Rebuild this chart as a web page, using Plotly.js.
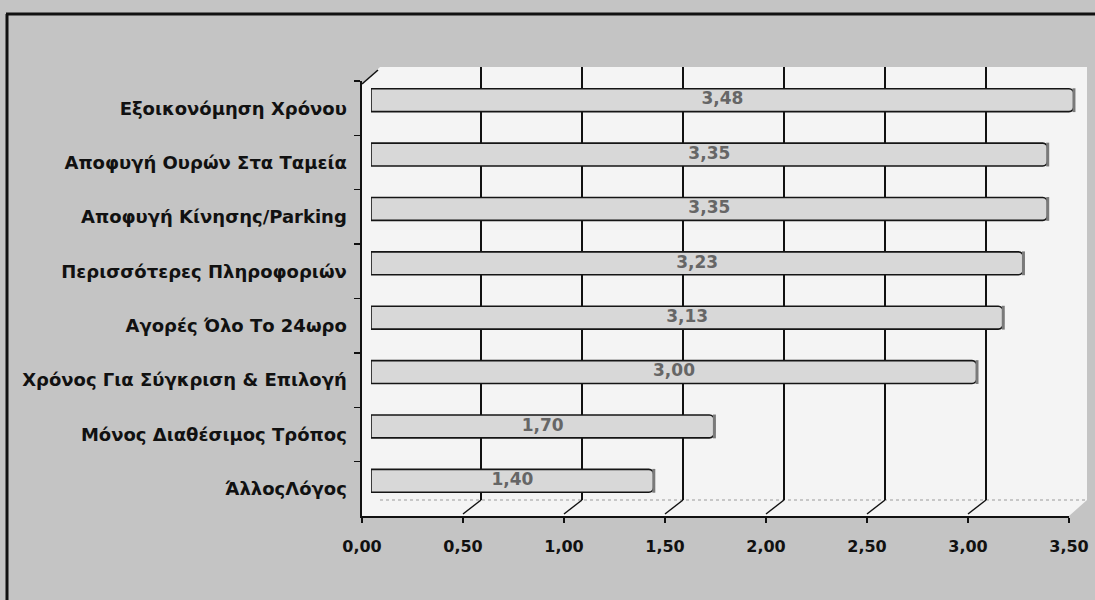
<!DOCTYPE html>
<html>
<head>
<meta charset="utf-8">
<script src="https://cdn.plot.ly/plotly-3.0.1.min.js"></script>
<style>html,body{margin:0;padding:0;background:#c4c4c4;}</style>
</head>
<body>
<div id="chart" style="width:1095px;height:600px;"></div>
<script>
// ---- data ----
const categories = [
  'Εξοικονόμηση Χρόνου',
  'Αποφυγή Ουρών Στα Ταμεία',
  'Αποφυγή Κίνησης/Parking',
  'Περισσότερες Πληροφοριών',
  'Αγορές Όλο Το 24ωρο',
  'Χρόνος Για Σύγκριση & Επιλογή',
  'Μόνος Διαθέσιμος Τρόπος',
  'ΆλλοςΛόγος'
];
const values = [3.48, 3.35, 3.35, 3.23, 3.13, 3.00, 1.70, 1.40];
const tickValues = [0, 0.5, 1.0, 1.5, 2.0, 2.5, 3.0, 3.5];
const gridValues = [0.5, 1.0, 1.5, 2.0, 2.5, 3.0];

// ---- geometry helpers (pixel -> paper) ----
const W = 1095, H = 600;
const px = x => x / W;
const py = y => 1 - y / H;
const XMAX = 3.5;
const frontL = 362, frontR = 1069, depthX = 18, depthY = 16;
const frontTop = 81, frontBot = 516;
const backTop = 67, backBot = 500;
const frontPx = v => frontL + v / XMAX * (frontR - frontL);
const backPx = v => frontL + depthX + v / XMAX * (frontR - frontL);

const catFont = {family: 'DejaVu Sans, Verdana, sans-serif', size: 18, color: '#111', weight: 'bold'};
const tickFont = {family: 'DejaVu Sans, Verdana, sans-serif', size: 16, color: '#111', weight: 'bold'};

const traces = [
  // invisible anchor trace for the front (labelled) axes
  {type: 'scatter', x: values, y: categories, xaxis: 'x', yaxis: 'y',
   mode: 'markers', marker: {opacity: 0}, hoverinfo: 'skip', showlegend: false},
  // back wall gridlines subplot
  {type: 'scatter', x: [], y: [], xaxis: 'x2', yaxis: 'y2', mode: 'markers',
   hoverinfo: 'skip', showlegend: false},
  // bars (mid depth)
  {type: 'bar', orientation: 'h', x: values, y: categories, xaxis: 'x3', yaxis: 'y3',
   width: 0.42,
   marker: {color: '#d8d8d8', line: {color: '#151515', width: 1.6}, cornerradius: 5},
   hoverinfo: 'skip', showlegend: false},
  // cylinder end caps
  {type: 'scatter', x: values, y: categories, xaxis: 'x3', yaxis: 'y3', mode: 'markers',
   marker: {symbol: 'line-ns', size: 17, line: {color: '#7a7a7a', width: 3}},
   hoverinfo: 'skip', showlegend: false},
  // value labels, centred in each bar
  {type: 'scatter', x: values.map(v => v / 2), y: categories, customdata: values,
   xaxis: 'x3', yaxis: 'y3', mode: 'text', texttemplate: '%{customdata:.2f}',
   textposition: 'middle center',
   textfont: {family: 'DejaVu Sans, Verdana, sans-serif', size: 17, color: '#666666', weight: 'bold'},
   hoverinfo: 'skip', showlegend: false}
];

const shapes = [];
// white wall / floor polygon
shapes.push({type: 'path', xref: 'paper', yref: 'paper', layer: 'below',
  path: `M ${px(frontL)} ${py(frontTop+3)} L ${px(frontL+depthX)} ${py(backTop)} L ${px(frontR+depthX)} ${py(backTop)} L ${px(frontR+depthX)} ${py(backBot)} L ${px(frontR)} ${py(frontBot)} L ${px(frontL)} ${py(frontBot)} Z`,
  fillcolor: '#f4f4f4', line: {width: 0}});
// dotted back-wall floor line
shapes.push({type: 'line', xref: 'paper', yref: 'paper', layer: 'below',
  x0: px(backPx(0)), x1: px(backPx(XMAX)), y0: py(backBot), y1: py(backBot),
  line: {color: '#9a9a9a', width: 1, dash: 'dot'}});
// top corner diagonal of value axis
shapes.push({type: 'line', xref: 'paper', yref: 'paper',
  x0: px(frontL), y0: py(frontTop+3), x1: px(frontL+depthX-2), y1: py(backTop+3),
  line: {color: '#111', width: 1.6}});
// diagonals from front ticks to back gridlines
gridValues.forEach(v => {
  shapes.push({type: 'line', xref: 'paper', yref: 'paper',
    x0: px(frontPx(v)), y0: py(frontBot-2), x1: px(backPx(v)), y1: py(backBot),
    line: {color: '#111', width: 1.4}});
});
// outer frame (top and left)
shapes.push({type: 'line', xref: 'paper', yref: 'paper', x0: px(6), x1: 1, y0: py(14), y1: py(14),
  line: {color: '#111', width: 3}});
shapes.push({type: 'line', xref: 'paper', yref: 'paper', x0: px(7), x1: px(7), y0: py(14), y1: 0,
  line: {color: '#111', width: 3}});

const layout = {
  width: W, height: H, autosize: false,
  margin: {l: 0, r: 0, t: 0, b: 0, pad: 0},
  paper_bgcolor: '#c4c4c4', plot_bgcolor: 'rgba(0,0,0,0)',
  separators: ', ',
  showlegend: false,
  xaxis: {domain: [px(frontL), px(frontR)], range: [0, XMAX], anchor: 'y',
    tickvals: tickValues, tickformat: '.2f', showgrid: false, zeroline: false,
    showline: true, linecolor: '#111', linewidth: 1.6,
    ticks: 'outside', ticklen: 5, tickwidth: 1.6, tickcolor: '#111',
    ticklabelstandoff: 10, tickfont: tickFont, fixedrange: true},
  yaxis: {domain: [py(frontBot), py(frontTop)], type: 'category', range: [7.5, -0.5],
    anchor: 'x', categoryorder: 'array', categoryarray: categories,
    showgrid: false, zeroline: false, showline: true, linecolor: '#111', linewidth: 1.6,
    ticks: 'outside', ticklen: 6, tickwidth: 1.4, tickcolor: '#111', tickson: 'boundaries',
    ticklabelstandoff: 10, tickfont: catFont, fixedrange: true},
  xaxis2: {domain: [px(frontL+depthX), px(frontR+depthX)], range: [0, XMAX], anchor: 'y2',
    tickvals: gridValues, showticklabels: false, ticks: '', showline: false, zeroline: false,
    showgrid: true, gridcolor: '#111', gridwidth: 1.6, fixedrange: true},
  yaxis2: {domain: [py(backBot), py(backTop)], range: [0, 1], anchor: 'x2', visible: false,
    showgrid: false, fixedrange: true},
  xaxis3: {domain: [px(frontL+depthX/2), px(frontR+depthX/2)], range: [0, XMAX], anchor: 'y3',
    visible: false, showgrid: false, zeroline: false, fixedrange: true},
  yaxis3: {domain: [py(frontBot-depthY/2), py(frontTop-depthY/2)], type: 'category', range: [7.5, -0.5],
    anchor: 'x3', categoryorder: 'array', categoryarray: categories, visible: false,
    showgrid: false, fixedrange: true},
  shapes: shapes
};

Plotly.newPlot('chart', traces, layout, {displayModeBar: false, staticPlot: true});
</script>
</body>
</html>
